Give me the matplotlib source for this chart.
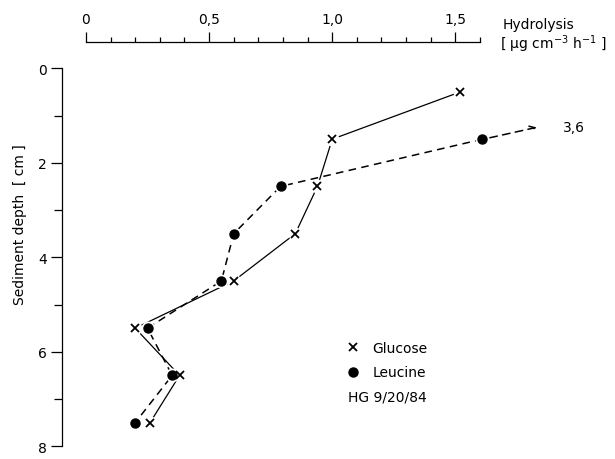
import numpy as np
import matplotlib
matplotlib.use('Agg')
import matplotlib.pyplot as plt
from matplotlib.lines import Line2D

plt.rcParams['font.family'] = ['DejaVu Sans']
plt.rcParams['mathtext.default'] = 'regular'

# depth of each slice (cm)
depth_glucose = [0.5, 1.5, 2.5, 3.5, 4.5, 5.5, 6.5, 7.5]
depth_leucine = [1.5, 2.5, 3.5, 4.5, 5.5, 6.5, 7.5]

# hydrolysis rates (ug cm-3 h-1)
glucose = [1.52, 1.00, 0.94, 0.85, 0.60, 0.20, 0.38, 0.26]
leucine = [3.6, 0.79, 0.60, 0.55, 0.25, 0.35, 0.20]

x_ticks = [0, 0.5, 1.0, 1.5]
x_ticklabels = ['0', '0,5', '1,0', '1,5']
y_ticks = [0, 2, 4, 6, 8]

x_max = 1.6      # end of the drawn scale
break_at = 1.61  # off-scale values are drawn here with an arrow

fig = plt.figure(figsize=(6.15, 4.6), dpi=100)
ax = fig.add_axes([0.1008, 0.0276, 0.6797, 0.8796])

# off-scale value sits at the break, arrow points on
leucine_plot = [min(v, break_at) for v in leucine]

ax.plot(glucose, depth_glucose, color='black', lw=0.9, zorder=2)
ax.plot(leucine_plot, depth_leucine, color='black', lw=1.1,
        dashes=(5, 3.5), zorder=2, clip_on=False)

# white halo so the lines stop short of the symbols
ax.plot(glucose, depth_glucose, ls='none', marker='o', ms=10,
        mfc='white', mec='none', zorder=3, clip_on=False)
ax.plot(leucine_plot, depth_leucine, ls='none', marker='o', ms=10,
        mfc='white', mec='none', zorder=3, clip_on=False)

ax.plot(glucose, depth_glucose, ls='none', marker='x', ms=5.5, mew=1.3,
        color='black', zorder=4, clip_on=False)
ax.plot(leucine_plot, depth_leucine, ls='none', marker='o', ms=6.5,
        color='black', zorder=4, clip_on=False)

# arrow for the off-scale leucine value
ax.annotate('', xy=(1.83, 1.25), xytext=(break_at + 0.03, 1.47),
            arrowprops=dict(arrowstyle='->', lw=1.1, ls=(0, (5, 3.5)),
                            color='black', shrinkA=0, shrinkB=0),
            annotation_clip=False)
ax.text(1.935, 1.25, f'{leucine[0]:.1f}'.replace('.', ','), fontsize=10,
        va='center', ha='left')

# axes
ax.set_xlim(-0.0973, x_max)
ax.set_ylim(8, -0.563)
ax.spines['right'].set_visible(False)
ax.spines['bottom'].set_visible(False)
ax.spines['top'].set_bounds(0, x_max)
ax.spines['left'].set_bounds(0, 8)
for s in ('top', 'left'):
    ax.spines[s].set_linewidth(0.9)

ax.xaxis.tick_top()
ax.set_xticks(x_ticks)
ax.set_xticklabels(x_ticklabels)
ax.set_xticks(np.arange(0, 1.61, 0.1), minor=True)
ax.set_yticks(y_ticks)
ax.set_yticks([1, 3, 5, 7], minor=True)
ax.tick_params(axis='x', which='major', direction='out', length=7.5, width=0.9,
               pad=4, labelsize=10)
ax.tick_params(axis='x', which='minor', direction='out', length=3.6, width=0.9)
ax.tick_params(axis='y', which='major', direction='out', length=8, width=0.9,
               pad=3, labelsize=10)
ax.tick_params(axis='y', which='minor', direction='out', length=6, width=0.9)

fig.text(20 / 615, 1 - 225 / 460, 'Sediment depth  [ cm ]', rotation=90,
         fontsize=10, ha='center', va='center')
fig.text(503 / 615, 1 - 25 / 460, 'Hydrolysis', fontsize=10,
         ha='left', va='center')
fig.text(500 / 615, 1 - 44 / 460, '[ µg cm$^{-3}$ h$^{-1}$ ]', fontsize=10,
         ha='left', va='center')

# legend
handles = [Line2D([], [], ls='none', marker='x', ms=5.5, mew=1.3, color='black'),
           Line2D([], [], ls='none', marker='o', ms=6.5, color='black')]
leg = ax.legend(handles, ['Glucose', 'Leucine'], loc='upper left',
                bbox_to_anchor=(346 / 615, 1 - 342 / 460),
                bbox_transform=fig.transFigure, frameon=False, fontsize=10,
                handlelength=1.0, handletextpad=0.9, labelspacing=0.75,
                borderpad=0, borderaxespad=0)
fig.text(348 / 615, 1 - 398 / 460, 'HG 9/20/84', fontsize=10,
         ha='left', va='center')

fig.savefig('out.png', dpi=100)
